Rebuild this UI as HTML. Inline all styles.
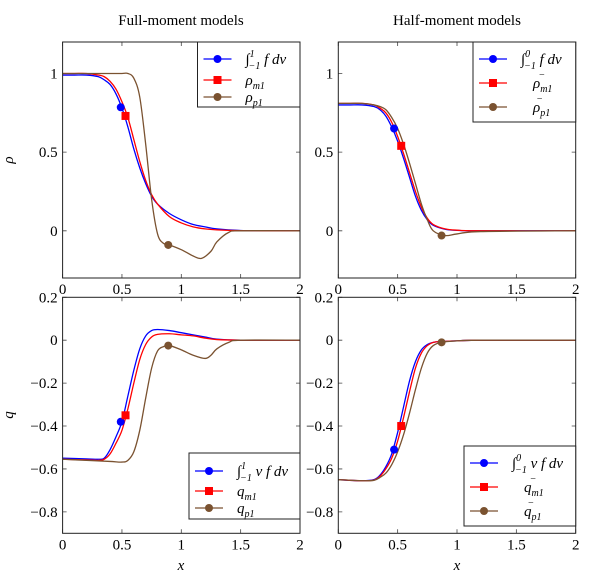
<!DOCTYPE html>
<html><head><meta charset="utf-8"><style>
html,body{margin:0;padding:0;background:#fff;}
svg{display:block;font-family:"Liberation Serif",serif;}
</style></head><body>
<svg id="fig" width="610" height="579" viewBox="0 0 610 579" xmlns="http://www.w3.org/2000/svg">
<text x="181" y="25" font-size="15" text-anchor="middle">Full-moment models</text>
<text x="457" y="25" font-size="15" text-anchor="middle">Half-moment models</text>
<text x="10" y="163" font-size="15" font-style="italic" text-anchor="middle" transform="rotate(-90 10 160)">ρ</text>
<text x="10" y="418" font-size="15" font-style="italic" text-anchor="middle" transform="rotate(-90 10 415)">q</text>
<text x="181" y="570" font-size="15" font-style="italic" text-anchor="middle">x</text>
<text x="457" y="570" font-size="15" font-style="italic" text-anchor="middle">x</text>
</svg>
<script>
// ---- data ----
const tlXs = [0,0.1,0.2,0.3,0.35,0.4,0.45,0.5,0.55,0.6,0.65,0.7,0.75,0.8,0.9,1.0,1.1,1.2,1.3,1.5,1.75,2];
const tlBlue = [0.99,0.99,0.99,0.98,0.96,0.93,0.87,0.78,0.66,0.52,0.4,0.3,0.22,0.17,0.11,0.07,0.04,0.025,0.012,0.002,0,0];
const tlRed = [1,1,1,0.99,0.98,0.95,0.9,0.82,0.72,0.58,0.44,0.32,0.23,0.17,0.09,0.05,0.025,0.012,0.006,0.001,0,0];
const tlBrownXs = [0,0.2,0.4,0.5,0.55,0.6,0.65,0.7,0.75,0.8,0.85,0.9,1.0,1.1,1.17,1.25,1.3,1.4,1.5,2];
const tlBrown = [1.0,1.0,1.0,1.0,1.0,0.97,0.85,0.55,0.2,-0.02,-0.08,-0.09,-0.12,-0.16,-0.175,-0.13,-0.07,-0.01,0,0];
const tlMarkX = [0.49,0.53,0.89];
const tlMarkY = [0.785,0.73,-0.09];

const trXs = [0,0.1,0.2,0.3,0.35,0.4,0.45,0.5,0.55,0.6,0.65,0.7,0.75,0.8,0.9,1.0,1.2,2];
const trBlue = [0.8,0.8,0.8,0.79,0.77,0.73,0.66,0.57,0.46,0.34,0.22,0.13,0.07,0.035,0.01,0.003,0,0];
const trRed = [0.81,0.81,0.81,0.8,0.78,0.75,0.69,0.6,0.49,0.37,0.25,0.15,0.08,0.04,0.012,0.004,0,0];
const trBrown = [0.81,0.81,0.81,0.8,0.79,0.77,0.72,0.65,0.55,0.43,0.3,0.17,0.07,0.0,-0.03,-0.02,-0.005,0];
const trMarkX = [0.47,0.53,0.87];
const trMarkY = [0.65,0.54,-0.03];

const blXs = [0,0.2,0.3,0.35,0.4,0.45,0.5,0.55,0.6,0.65,0.7,0.75,0.8,0.9,1.0,1.1,1.2,1.3,1.5,2];
const blBlue = [-0.55,-0.553,-0.555,-0.55,-0.51,-0.45,-0.38,-0.26,-0.14,-0.04,0.02,0.045,0.05,0.045,0.035,0.025,0.015,0.005,0,0];
const blRed = [-0.555,-0.558,-0.56,-0.555,-0.53,-0.48,-0.42,-0.32,-0.2,-0.09,-0.02,0.015,0.027,0.03,0.025,0.02,0.01,0.003,0,0];
const blBrownXs = [0,0.2,0.4,0.5,0.55,0.6,0.65,0.7,0.75,0.8,0.85,0.9,1.0,1.1,1.2,1.25,1.3,1.4,1.5,2];
const blBrown = [-0.555,-0.56,-0.565,-0.568,-0.56,-0.52,-0.42,-0.27,-0.13,-0.05,-0.03,-0.025,-0.045,-0.07,-0.085,-0.07,-0.04,-0.01,0,0];
const blMarkX = [0.49,0.53,0.89];
const blMarkY = [-0.38,-0.35,-0.025];

const brXs = [0,0.2,0.3,0.35,0.4,0.45,0.5,0.55,0.6,0.65,0.7,0.75,0.8,0.87,1.0,1.2,2];
const brBlue = [-0.65,-0.655,-0.65,-0.63,-0.59,-0.53,-0.43,-0.31,-0.19,-0.1,-0.045,-0.02,-0.01,-0.006,-0.003,0,0];
const brRed = [-0.65,-0.655,-0.652,-0.635,-0.6,-0.55,-0.47,-0.36,-0.24,-0.13,-0.06,-0.025,-0.01,-0.006,-0.003,0,0];
const brBrown = [-0.65,-0.655,-0.653,-0.64,-0.62,-0.58,-0.52,-0.44,-0.34,-0.23,-0.13,-0.06,-0.025,-0.01,-0.003,0,0];
const brMarkX = [0.47,0.53,0.87];
const brMarkY = [-0.51,-0.40,-0.01];

const xTicks = [0,0.5,1,1.5,2];
const xTickLabels = ["0","0.5","1","1.5","2"];
const rhoTicks = [0,0.5,1];
const rhoTickLabels = ["0","0.5","1"];
const qTicks = [0.2,0,-0.2,-0.4,-0.6,-0.8];
const qTickLabels = ["0.2","0","−0.2","−0.4","−0.6","−0.8"];

// ---- drawing ----
const NS="http://www.w3.org/2000/svg";
const svg=document.getElementById('fig');
const BLUE="#0000ff",RED="#ff0000",BROWN="#7a5230";
function mk(tag,attrs,parent){const e=document.createElementNS(NS,tag);for(const k in attrs)e.setAttribute(k,attrs[k]);(parent||svg).appendChild(e);return e;}

function panel(id,box,ymin,ymax,yT,yTL,series,marks,legend){
  const g=mk('g',{});
  
  
  const sx=v=>box.x0+(v-0)/(2-0)*(box.x1-box.x0);
  const sy=v=>box.y1-(v-ymin)/(ymax-ymin)*(box.y1-box.y0);
  const cp=mk('clipPath',{id:id+'-clip'},g);
  mk('rect',{x:box.x0,y:box.y0,width:box.x1-box.x0,height:box.y1-box.y0},cp);
  xTicks.forEach((t,i)=>{
    const x=sx(t);
    const tk=mk('path',{d:`M${x},${box.y1}v-4M${x},${box.y0}v4`,stroke:'#444','stroke-width':0.8},g);
    
    
    const tl=mk('text',{x:x,y:box.y1+16,'font-size':15,'text-anchor':'middle'},g);
    
    
    tl.textContent=xTickLabels[i];
  });
  yT.forEach((t,i)=>{
    const y=sy(t);
    const tk=mk('path',{d:`M${box.x0},${y}h4M${box.x1},${y}h-4`,stroke:'#444','stroke-width':0.8},g);
    
    
    const tl=mk('text',{x:box.x0-5,y:y+5,'font-size':15,'text-anchor':'end'},g);
    
    
    tl.textContent=yTL[i];
  });
  const cg=mk('g',{'clip-path':`url(#${id}-clip)`},g);
  series.forEach(s=>{
    const pts=s.xs.map((x,i)=>[sx(x),sy(s.ys[i])]);
    let d=`M${pts[0][0]},${pts[0][1]}`;
    for(let i=0;i<pts.length-1;i++){
      const p0=pts[Math.max(i-1,0)],p1=pts[i],p2=pts[i+1],p3=pts[Math.min(i+2,pts.length-1)];
      const c1=[p1[0]+(p2[0]-p0[0])/6,p1[1]+(p2[1]-p0[1])/6];
      const c2=[p2[0]-(p3[0]-p1[0])/6,p2[1]-(p3[1]-p1[1])/6];
      d+=`C${c1[0]},${c1[1]} ${c2[0]},${c2[1]} ${p2[0]},${p2[1]}`;
    }
    const l=mk('path',{d:d,fill:'none',stroke:s.c,'stroke-width':1.3},cg);
    
    
  });
  const cols=[BLUE,RED,BROWN];
  marks.xs.forEach((mx,i)=>{
    const x=sx(mx),y=sy(marks.ys[i]);
    let m;
    if(i===1) m=mk('rect',{x:x-4,y:y-4,width:8,height:8,fill:cols[i]},g);
    else m=mk('circle',{cx:x,cy:y,r:4,fill:cols[i]},g);
    
    
  });
  const fr=mk('rect',{x:box.x0,y:box.y0,width:box.x1-box.x0,height:box.y1-box.y0,fill:'none',stroke:'#222','stroke-width':1},g);
  
  
  const lg=mk('g',{},g);
  
  
  mk('rect',{x:legend.x,y:legend.y,width:legend.w,height:legend.h,fill:'#fff',stroke:'#222','stroke-width':1},lg);
  legend.rows.forEach((r,i)=>{
    const y=legend.y+legend.ry[i];
    const lx=legend.x+6;
    const ent=mk('g',{},lg);
    
    
    mk('line',{x1:lx,y1:y,x2:lx+28,y2:y,stroke:cols[i],'stroke-width':1.3},ent);
    if(i===1) mk('rect',{x:lx+10,y:y-4,width:8,height:8,fill:cols[i]},ent);
    else mk('circle',{cx:lx+14,cy:y,r:4,fill:cols[i]},ent);
    const t=mk('text',{x:lx+legend.tx,y:y+5,'font-size':15,'font-style':'italic'},ent);
    t.innerHTML=r;
  });
}

panel('rho-full',{x0:62.6,x1:300,y0:42,y1:278},-0.3,1.2,rhoTicks,rhoTickLabels,
 [{n:'integral',xs:tlXs,ys:tlBlue,c:BLUE},{n:'rho-m1',xs:tlXs,ys:tlRed,c:RED},{n:'rho-p1',xs:tlBrownXs,ys:tlBrown,c:BROWN}],
 {xs:tlMarkX,ys:tlMarkY},
 {x:197.5,y:42,w:102.5,h:65,tx:42,ry:[17,38,55],rows:['∫<tspan font-size="10" dy="-7">1</tspan><tspan font-size="10" dy="12" dx="-6">−1</tspan><tspan dy="-5"> f dv</tspan>','ρ<tspan font-size="10" dy="4">m1</tspan>','ρ<tspan font-size="10" dy="4">p1</tspan>']});

panel('rho-half',{x0:338.3,x1:575.7,y0:42,y1:278},-0.3,1.2,rhoTicks,rhoTickLabels,
 [{n:'integral',xs:trXs,ys:trBlue,c:BLUE},{n:'rho-m1',xs:trXs,ys:trRed,c:RED},{n:'rho-p1',xs:trXs,ys:trBrown,c:BROWN}],
 {xs:trMarkX,ys:trMarkY},
 {x:473,y:42,w:102.7,h:80,tx:42,ry:[17,41,65],rows:['∫<tspan font-size="10" dy="-7">0</tspan><tspan font-size="10" dy="12" dx="-6">−1</tspan><tspan dy="-5"> f dv</tspan>','<tspan dx="12">ρ</tspan><tspan font-size="10" dy="4">m1</tspan><tspan font-size="10" dx="-14" dy="-14">−</tspan>','<tspan dx="12">ρ</tspan><tspan font-size="10" dy="4">p1</tspan><tspan font-size="10" dx="-14" dy="-14">−</tspan>']});

panel('q-full',{x0:62.6,x1:300,y0:297.3,y1:533.3},-0.9,0.2,qTicks,qTickLabels,
 [{n:'integral',xs:blXs,ys:blBlue,c:BLUE},{n:'q-m1',xs:blXs,ys:blRed,c:RED},{n:'q-p1',xs:blBrownXs,ys:blBrown,c:BROWN}],
 {xs:blMarkX,ys:blMarkY},
 {x:189,y:453,w:111,h:66,tx:42,ry:[18,38,55],rows:['∫<tspan font-size="10" dy="-7">1</tspan><tspan font-size="10" dy="12" dx="-6">−1</tspan><tspan dy="-5"> v f dv</tspan>','q<tspan font-size="10" dy="4">m1</tspan>','q<tspan font-size="10" dy="4">p1</tspan>']});

panel('q-half',{x0:338.3,x1:575.7,y0:297.3,y1:533.3},-0.9,0.2,qTicks,qTickLabels,
 [{n:'integral',xs:brXs,ys:brBlue,c:BLUE},{n:'q-m1',xs:brXs,ys:brRed,c:RED},{n:'q-p1',xs:brXs,ys:brBrown,c:BROWN}],
 {xs:brMarkX,ys:brMarkY},
 {x:464,y:446,w:111.7,h:80,tx:42,ry:[17,41,65],rows:['∫<tspan font-size="10" dy="-7">0</tspan><tspan font-size="10" dy="12" dx="-6">−1</tspan><tspan dy="-5"> v f dv</tspan>','<tspan dx="12">q</tspan><tspan font-size="10" dy="4">m1</tspan><tspan font-size="10" dx="-14" dy="-14">−</tspan>','<tspan dx="12">q</tspan><tspan font-size="10" dy="4">p1</tspan><tspan font-size="10" dx="-14" dy="-14">−</tspan>']});
</script>
</body></html>
